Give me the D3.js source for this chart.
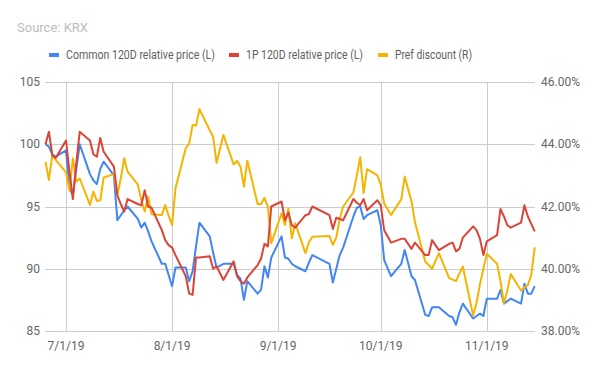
<html lang="en">
<head>
    <meta charset="UTF-8">
    <title>Common vs 1P relative price and pref discount</title>
    <script src="https://d3js.org/d3.v7.min.js"></script>
    <style>
        body{ margin: 0; background: white; }
        svg text{ font-family: Roboto, "Noto Sans", sans-serif; }
        .grid line{ stroke: #cccccc; stroke-width: 1px; shape-rendering: crispEdges; }
        .tick-label{ font-size: 12px; fill: #666666; }
        .legend-label{ font-size: 12px; fill: #5f5f5f; }
        path.series{ fill: none; stroke-width: 2px; stroke-linejoin: round; }
    </style>
</head>
<body>
<svg id="canvas" width="600" height="371"></svg>
<script>
    // trading days (KRX)
    let dates = [
        "2019-06-25","2019-06-26","2019-06-27","2019-06-28",
        "2019-07-01","2019-07-02","2019-07-03","2019-07-04","2019-07-05",
        "2019-07-08","2019-07-09","2019-07-10","2019-07-11","2019-07-12",
        "2019-07-15","2019-07-16","2019-07-17","2019-07-18","2019-07-19",
        "2019-07-22","2019-07-23","2019-07-24","2019-07-25","2019-07-26",
        "2019-07-29","2019-07-30","2019-07-31","2019-08-01","2019-08-02",
        "2019-08-05","2019-08-06","2019-08-07","2019-08-08","2019-08-09",
        "2019-08-12","2019-08-13","2019-08-14","2019-08-16",
        "2019-08-19","2019-08-20","2019-08-21","2019-08-22","2019-08-23",
        "2019-08-26","2019-08-27","2019-08-28","2019-08-29","2019-08-30",
        "2019-09-02","2019-09-03","2019-09-04","2019-09-05","2019-09-06",
        "2019-09-09","2019-09-10","2019-09-11",
        "2019-09-16","2019-09-17","2019-09-18","2019-09-19","2019-09-20",
        "2019-09-23","2019-09-24","2019-09-25","2019-09-26","2019-09-27",
        "2019-09-30","2019-10-01","2019-10-02","2019-10-04",
        "2019-10-07","2019-10-08","2019-10-10","2019-10-11",
        "2019-10-14","2019-10-15","2019-10-16","2019-10-17","2019-10-18",
        "2019-10-21","2019-10-22","2019-10-23","2019-10-24","2019-10-25",
        "2019-10-28","2019-10-29","2019-10-30","2019-10-31","2019-11-01",
        "2019-11-04","2019-11-05","2019-11-06","2019-11-07","2019-11-08",
        "2019-11-11","2019-11-12","2019-11-13","2019-11-14","2019-11-15"
    ];

    let common120 = [
        100.0, 99.8, 99.2, 99.0,
        99.5, 96.5, 95.9, 98.0, 100.0,
        97.6, 97.1, 96.8, 98.0, 98.6,
        97.5, 93.9, 94.3, 94.7, 95.0,
        94.0, 93.3, 93.7, 93.0, 92.2,
        90.4, 90.4, 89.5, 88.6, 90.1,
        90.1, 89.0, 89.8, 91.8, 93.7,
        92.6, 91.3, 90.1, 90.4,
        90.4, 89.5, 89.2, 87.5, 89.0,
        88.0, 88.3, 90.2, 89.3, 90.9,
        92.6, 90.9, 90.8, 90.4, 90.2,
        89.8, 90.5, 91.1,
        90.4, 88.9, 90.0, 91.1, 91.7,
        94.2, 94.9, 95.0, 94.0, 94.3,
        94.7, 93.5, 90.7, 89.4,
        90.4, 91.5, 89.4, 89.1,
        86.3, 86.2, 86.9, 86.9, 86.9,
        86.2, 86.1, 85.5, 86.5, 87.2,
        86.0, 86.2, 86.4, 86.2, 87.6,
        87.6, 88.3, 87.2, 87.4, 87.6,
        87.2, 88.8, 88.0, 88.0, 88.6
    ];

    let pref120 = [
        100.0, 101.0, 99.1, 98.9,
        100.3, 97.8, 95.6, 98.5, 101.0,
        100.3, 99.2, 99.0, 100.5, 99.4,
        98.2, 95.9, 95.2, 94.6, 95.6,
        95.2, 95.1, 96.3, 95.0, 94.9,
        93.1, 92.3, 91.9, 91.7, 91.1,
        89.4, 88.0, 87.9, 90.9, 90.9,
        91.0, 90.0, 90.2, 89.1,
        90.6, 89.4, 89.0, 88.8, 89.3,
        90.3, 90.8, 92.0, 91.8, 95.0,
        95.4, 93.9, 94.5, 93.5, 93.3,
        94.3, 94.4, 95.0,
        94.3, 93.2, 94.1, 94.0, 93.9,
        95.6, 95.3, 95.1, 95.6, 94.7,
        95.5, 95.1, 93.1, 92.1,
        92.4, 92.4, 91.6, 92.1,
        91.1, 91.1, 92.3, 91.9, 91.5,
        92.0, 92.1, 91.4, 91.6, 92.5,
        93.4, 93.1, 92.4, 91.1, 92.2,
        92.7, 94.8, 94.2, 93.5, 93.3,
        93.7, 95.1, 94.2, 93.6, 93.0
    ];

    // preferred share discount, in %
    let prefDiscount = [
        43.44, 42.85, 43.66, 43.50,
        43.10, 42.50, 43.55, 42.80, 42.90,
        42.05, 42.48, 42.18, 42.20, 42.93,
        43.04, 42.37, 42.90, 43.55, 43.12,
        42.70, 42.20, 41.84, 42.32, 41.75,
        41.73, 42.05, 41.70, 41.41, 42.59,
        43.87, 44.03, 44.62, 44.60, 45.13,
        44.45, 44.24, 43.40, 44.30,
        43.35, 43.47, 43.28, 42.64, 43.47,
        42.08, 42.08, 42.28, 42.00, 40.82,
        41.78, 41.41, 41.94, 40.98, 41.46,
        40.50, 40.85, 41.03,
        41.05, 40.77, 41.00, 41.60, 42.00,
        42.45, 43.00, 43.58, 42.43, 43.20,
        43.00, 42.70, 42.10, 41.73,
        42.23, 42.96, 42.16, 41.50,
        40.23, 40.12, 40.00, 40.25, 40.50,
        39.70, 39.65, 39.60, 39.85, 40.07,
        38.50, 38.90, 39.50, 40.00, 40.48,
        40.16, 39.60, 38.90, 39.30, 39.83,
        39.30, 39.40, 39.48, 39.80, 40.69
    ];

    let leftTicks = [85, 90, 95, 100, 105];
    let rightTicks = [38, 40, 42, 44, 46];
    let monthTicks = ["2019-07-01", "2019-08-01", "2019-09-01", "2019-10-01", "2019-11-01"];

    let seriesNames = ["Common 120D relative price (L)", "1P 120D relative price (L)", "Pref discount (R)"];
    let seriesColors = ["#4285f4", "#db4437", "#f4b400"];

    let parse = d3.timeParse("%Y-%m-%d");
    let days = dates.map(parse);

    let svg = d3.select('svg');
    let x = d3.scaleTime().domain([days[0], days[days.length - 1]]).range([45.5, 534.7]);
    let yL = d3.scaleLinear().domain([85, 105]).range([331, 82]);
    let yR = d3.scaleLinear().domain([38, 46]).range([331, 82]);

    svg.append('text').attr('x', 17).attr('y', 32)
        .style('font-size', '13px').style('fill', '#bdbdbd').text('Source: KRX');

    // grid
    let grid = svg.append('g').attr('class', 'grid');
    grid.selectAll('line.h').data(leftTicks).enter().append('line')
        .attr('x1', 45).attr('x2', 535)
        .attr('y1', d => Math.round(yL(d)) + 0.5).attr('y2', d => Math.round(yL(d)) + 0.5);
    grid.selectAll('line.v').data(monthTicks.map(parse)).enter().append('line')
        .attr('x1', d => Math.round(x(d)) + 0.5).attr('x2', d => Math.round(x(d)) + 0.5)
        .attr('y1', 82).attr('y2', 331);

    // axes labels
    svg.append('g').selectAll('text').data(leftTicks).enter().append('text')
        .attr('class', 'tick-label').attr('x', 40).attr('y', d => yL(d) + 4)
        .attr('text-anchor', 'end').text(d => d);
    svg.append('g').selectAll('text').data(rightTicks).enter().append('text')
        .attr('class', 'tick-label').attr('x', 541).attr('y', d => yR(d) + 4)
        .text(d => d3.format('.2f')(d) + '%');
    svg.append('g').selectAll('text').data(monthTicks.map(parse)).enter().append('text')
        .attr('class', 'tick-label').attr('x', d => x(d)).attr('y', 350)
        .attr('text-anchor', 'middle').text(d3.timeFormat('%-m/%-d/%y'));

    // lines
    let lineL = d3.line().x((d, i) => x(days[i])).y(d => yL(d));
    let lineR = d3.line().x((d, i) => x(days[i])).y(d => yR(d));
    svg.append('path').attr('class', 'series').attr('stroke', seriesColors[0]).attr('d', lineL(common120));
    svg.append('path').attr('class', 'series').attr('stroke', seriesColors[2]).attr('d', lineR(prefDiscount));
    svg.append('path').attr('class', 'series').attr('stroke', seriesColors[1]).attr('d', lineL(pref120));

    // legend
    let legendX = [49, 229, 378];
    let legendW = [149, 117, 77];
    let legend = svg.append('g').selectAll('g').data(seriesNames).enter().append('g')
        .attr('transform', (d, i) => 'translate(' + legendX[i] + ',55)');
    legend.append('rect').attr('x', 0).attr('y', -2).attr('width', 10).attr('height', 4)
        .attr('fill', (d, i) => seriesColors[i]);
    legend.append('text').attr('class', 'legend-label').attr('x', 17).attr('y', 4)
        .attr('textLength', (d, i) => legendW[i]).attr('lengthAdjust', 'spacingAndGlyphs')
        .text(d => d);
</script>
</body>
</html>
